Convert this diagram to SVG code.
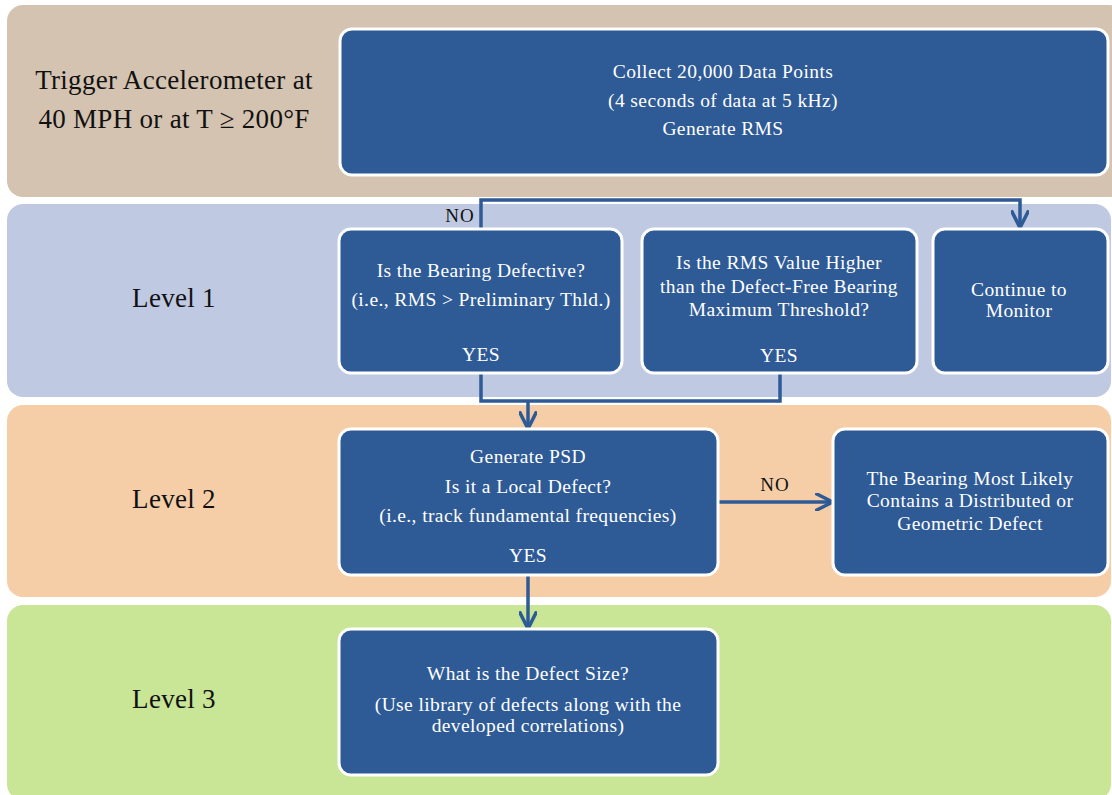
<svg xmlns="http://www.w3.org/2000/svg" width="1112" height="795" viewBox="0 0 1112 795">
<style>
.band{stroke:none}
.node{fill:#2E5A96;stroke:#FFFFFF;stroke-width:3}
.nt{font-family:"Liberation Serif",serif;font-size:19.5px;letter-spacing:0.4px;fill:#FFFFFF;text-anchor:middle}
.lt{font-family:"Liberation Serif",serif;font-size:27px;letter-spacing:0.3px;fill:#111111;text-anchor:middle}
.cl{font-family:"Liberation Serif",serif;font-size:19px;letter-spacing:1px;fill:#111111;text-anchor:middle}
.conn{fill:none;stroke:#2E5A96;stroke-width:3.5}
</style>
<defs>
<marker id="ah" viewBox="0 0 10 10" refX="9" refY="5" markerWidth="5" markerHeight="5" orient="auto" markerUnits="strokeWidth">
<path d="M0,0 L10,5 L0,10" fill="none" stroke="#2E5A96" stroke-width="2"/>
</marker>
</defs>
<rect width="1112" height="795" fill="#FFFFFF"/>
<g id="bands">
<rect class="band" x="7" y="5" width="1118" height="192" rx="16" fill="#D3C3B0"/>
<rect class="band" x="7" y="204" width="1104" height="193" rx="16" fill="#BFC9E1"/>
<rect class="band" x="7" y="405" width="1104" height="192" rx="16" fill="#F5CEA8"/>
<rect class="band" x="7" y="605" width="1104" height="195" rx="16" fill="#C9E596"/>
</g>
<g id="lane-labels">
<text class="lt" x="174" y="89">Trigger Accelerometer at</text>
<text class="lt" x="174" y="128">40 MPH or at T ≥ 200°F</text>
<text class="lt" x="174" y="307">Level 1</text>
<text class="lt" x="174" y="508">Level 2</text>
<text class="lt" x="174" y="708">Level 3</text>
</g>
<g id="connectors">
<polyline class="conn" points="481,229 481,200 1020,200 1020,226" marker-end="url(#ah)"/>
<polyline class="conn" points="481,373 481,401 780,401 780,373"/>
<line class="conn" x1="528" y1="401" x2="528" y2="427" marker-end="url(#ah)"/>
<line class="conn" x1="718" y1="502" x2="831" y2="502" marker-end="url(#ah)"/>
<line class="conn" x1="528" y1="575" x2="528" y2="627" marker-end="url(#ah)"/>
<text class="cl" x="460" y="222">NO</text>
<text class="cl" x="775" y="491">NO</text>
</g>
<g id="n-collect">
<rect class="node" x="340" y="29" width="768" height="146" rx="12"/>
<text class="nt" x="723" y="78">Collect 20,000 Data Points</text>
<text class="nt" x="723" y="107">(4 seconds of data at 5 kHz)</text>
<text class="nt" x="723" y="135">Generate RMS</text>
</g>
<g id="n-defective">
<rect class="node" x="339" y="229" width="283" height="144" rx="12"/>
<text class="nt" x="481" y="277">Is the Bearing Defective?</text>
<text class="nt" x="481" y="306">(i.e., RMS &gt; Preliminary Thld.)</text>
<text class="nt" x="481" y="361">YES</text>
</g>
<g id="n-rms">
<rect class="node" x="642" y="229" width="275" height="144" rx="12"/>
<text class="nt" x="779" y="269">Is the RMS Value Higher</text>
<text class="nt" x="779" y="293">than the Defect-Free Bearing</text>
<text class="nt" x="779" y="316">Maximum Threshold?</text>
<text class="nt" x="779" y="362">YES</text>
</g>
<g id="n-monitor">
<rect class="node" x="933" y="229" width="175" height="144" rx="12"/>
<text class="nt" x="1019" y="296">Continue to</text>
<text class="nt" x="1019" y="317">Monitor</text>
</g>
<g id="n-psd">
<rect class="node" x="339" y="429" width="379" height="146" rx="12"/>
<text class="nt" x="528" y="463">Generate PSD</text>
<text class="nt" x="528" y="493">Is it a Local Defect?</text>
<text class="nt" x="528" y="522">(i.e., track fundamental frequencies)</text>
<text class="nt" x="528" y="562">YES</text>
</g>
<g id="n-distributed">
<rect class="node" x="833" y="429" width="275" height="146" rx="12"/>
<text class="nt" x="970" y="485">The Bearing  Most Likely</text>
<text class="nt" x="970" y="507">Contains a Distributed or</text>
<text class="nt" x="970" y="530">Geometric Defect</text>
</g>
<g id="n-size">
<rect class="node" x="339" y="629" width="379" height="146" rx="12"/>
<text class="nt" x="528" y="680">What is the Defect Size?</text>
<text class="nt" x="528" y="711">(Use library of defects along with the</text>
<text class="nt" x="528" y="732">developed  correlations)</text>
</g>
</svg>
